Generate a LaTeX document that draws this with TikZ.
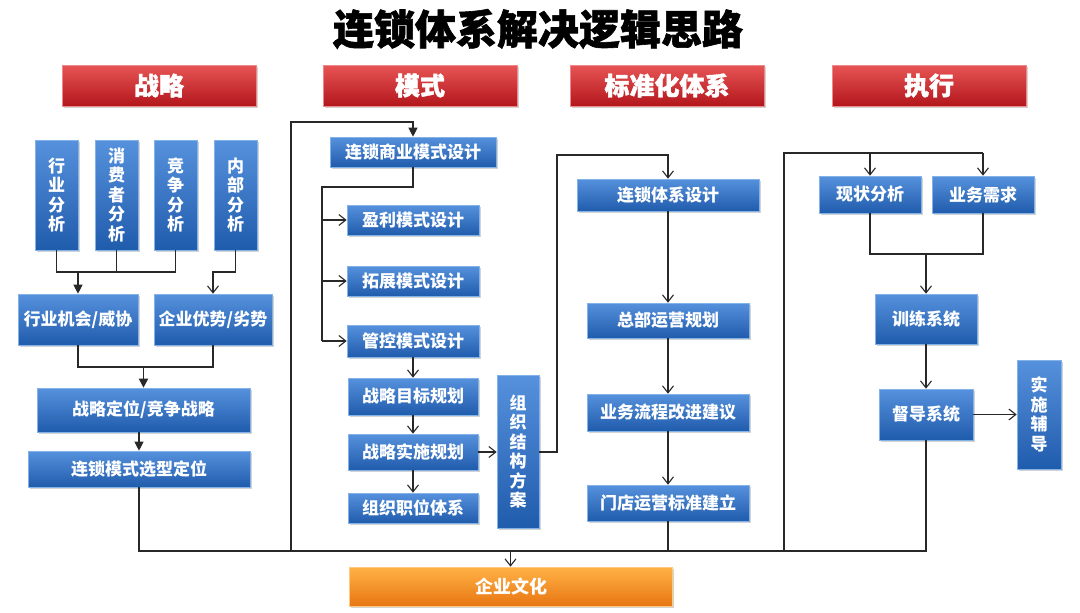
\documentclass[tikz,border=0pt]{standalone}
\usepackage{fontspec}
\setmainfont{Noto Sans CJK SC}
\newfontfamily\heavyfont[BoldFeatures={FakeBold=1.5}]{Noto Sans CJK SC}
\usetikzlibrary{arrows.meta,shadows}
\definecolor{bluetop}{RGB}{85,145,220}
\definecolor{bluebot}{RGB}{32,92,172}
\definecolor{blueedge}{RGB}{130,178,232}
\definecolor{redtop}{RGB}{232,85,85}
\definecolor{redbot}{RGB}{178,22,28}
\definecolor{orgtop}{RGB}{255,178,70}
\definecolor{orgbot}{RGB}{232,118,18}
\definecolor{lncol}{RGB}{40,40,40}
\tikzset{
  box/.style={draw=blueedge, line width=0.6pt, top color=bluetop, bottom color=bluebot,
    text=white, font=\bfseries\fontsize{17}{19.5}\selectfont, inner sep=0pt, align=center,
    drop shadow={shadow xshift=1.5pt, shadow yshift=-2pt, opacity=0.35}},
  hdr/.style={draw=redtop!70!white, line width=0.6pt, top color=redtop, bottom color=redbot,
    text=white, font=\heavyfont\bfseries\fontsize{25}{25}\selectfont, inner sep=0pt,
    minimum width=194pt, minimum height=41pt,
    drop shadow={shadow xshift=1.5pt, shadow yshift=-2pt, opacity=0.35}},
  obox/.style={draw=orgtop!70!white, line width=0.6pt, top color=orgtop, bottom color=orgbot,
    text=white, font=\bfseries\fontsize{18}{18}\selectfont, inner sep=0pt,
    drop shadow={shadow xshift=1.5pt, shadow yshift=-2pt, opacity=0.35}},
  ln/.style={draw=lncol, line width=1.1pt},
  tk/.style={draw=lncol, line width=2pt},
  arr/.style={ln, -{Straight Barb[length=7pt,width=11pt]}},
  farr/.style={ln, -{Triangle[length=9pt,width=9pt]}},
}
\begin{document}
\begin{tikzpicture}[x=1pt,y=-1pt]
\useasboundingbox (0,0) rectangle (1080,613);
% title
\node[font=\heavyfont\bfseries\fontsize{41}{41}\selectfont] (title) at (538,29) {连锁体系解决逻辑思路};
% headers
\node[hdr] (h1) at (159,85.5) {战略};
\node[hdr] (h2) at (420,85.5) {模式};
\node[hdr] (h3) at (667,85.5) {标准化体系};
\node[hdr] (h4) at (929,85.5) {执行};
% strategy column
\node[box, minimum width=43pt, minimum height=110pt] (a1) at (56.5,195) {行\\业\\分\\析};
\node[box, minimum width=43pt, minimum height=110pt] (a2) at (116.5,195) {消\\费\\者\\分\\析};
\node[box, minimum width=43pt, minimum height=110pt] (a3) at (175.5,195) {竞\\争\\分\\析};
\node[box, minimum width=43pt, minimum height=110pt] (a4) at (235.5,195) {内\\部\\分\\析};
\node[box, minimum width=120pt, minimum height=51pt] (b1) at (78,319.5) {行业机会/威协};
\node[box, minimum width=118pt, minimum height=51pt] (b2) at (213,319.5) {企业优势/劣势};
\node[box, minimum width=213pt, minimum height=44pt] (c1) at (143.5,410) {战略定位/竞争战略};
\node[box, minimum width=222pt, minimum height=36pt] (c2) at (139,469) {连锁模式选型定位};
% model column
\node[box, minimum width=166pt, minimum height=30pt] (m1) at (413,152) {连锁商业模式设计};
\node[box, minimum width=132pt, minimum height=30pt] (m2) at (413,220) {盈利模式设计};
\node[box, minimum width=132pt, minimum height=30pt] (m3) at (413,281) {拓展模式设计};
\node[box, minimum width=132pt, minimum height=32pt] (m4) at (413,341) {管控模式设计};
\node[box, minimum width=130pt, minimum height=37pt] (m5) at (413,396.5) {战略目标规划};
\node[box, minimum width=130pt, minimum height=36pt] (m6) at (413,452) {战略实施规划};
\node[box, minimum width=130pt, minimum height=30pt] (m7) at (413,508) {组织职位体系};
\node[box, minimum width=42pt, minimum height=153pt] (m8) at (518,451.5) {组\\织\\结\\构\\方\\案};
% standard column
\node[box, minimum width=182pt, minimum height=32pt] (s1) at (668,195) {连锁体系设计};
\node[box, minimum width=162pt, minimum height=35pt] (s2) at (668,320.5) {总部运营规划};
\node[box, minimum width=162pt, minimum height=37pt] (s3) at (668,412.5) {业务流程改进建议};
\node[box, minimum width=162pt, minimum height=36pt] (s4) at (668,503) {门店运营标准建立};
% execution column
\node[box, minimum width=102pt, minimum height=37pt] (e1) at (870,194.5) {现状分析};
\node[box, minimum width=102pt, minimum height=37pt] (e2) at (983,194.5) {业务需求};
\node[box, minimum width=102pt, minimum height=50pt] (e3) at (926,319) {训练系统};
\node[box, minimum width=94pt, minimum height=51pt] (e4) at (926,414.5) {督导系统};
\node[box, minimum width=44pt, minimum height=109pt] (e5) at (1039,414.5) {实\\施\\辅\\导};
% culture
\node[obox, minimum width=323pt, minimum height=39pt] (f) at (510.5,586.5) {\hspace{2pt}企业文化};
% junction coordinates
\coordinate (j1) at (78,272);
\coordinate (j2) at (213,272);
\coordinate (j3) at (143.5,367);
\coordinate (bus) at (0,551);
\coordinate (lc) at (291,122);
\coordinate (mc) at (322,187);
\coordinate (sc) at (557,155);
\coordinate (rc) at (784,153);
\coordinate (ej) at (926,254);
% strategy connectors
\draw[ln] (a1.south) -- (a1.south |- j1) -- (a3.south |- j1) -- (a3.south);
\draw[ln] (a2.south) -- (a2.south |- j1);
\draw[farr] (j1) -- (b1.north);
\draw[arr] (a4.south) |- (j2) -- (b2.north);
\draw[ln] (b1.south) -- (b1.south |- j3) -- (b2.south |- j3) -- (b2.south);
\draw[farr, line width=1.8pt] (j3) -- (c1.north);
\draw[farr] (c2.north |- c1.south) -- (c2.north);
% bus
\draw[ln] (c2.south) -- (c2.south |- bus) -- (e4.south |- bus) -- (e4.south);
\draw[farr] (lc |- bus) -- (lc) -- (m1.north |- lc) -- (m1.north);
\draw[arr] (f.north |- bus) -- (f.north);
\draw[ln] (s4.south) -- (s4.south |- bus);
\draw[ln] (rc |- bus) -- (rc) -- (e2.north |- rc);
\draw[arr] (e1.north |- rc) -- (e1.north);
\draw[arr] (e2.north |- rc) -- (e2.north);
% model connectors
\draw[tk] (m1.south) -- (m1.south |- mc) -- (mc) -- (mc |- m4.west);
\draw[arr] (mc |- m2.west) -- (m2.west);
\draw[arr] (mc |- m3.west) -- (m3.west);
\draw[arr] (mc |- m4.west) -- (m4.west);
\draw[arr] (m4.south) -- (m5.north);
\draw[arr] (m5.south) -- (m6.north);
\draw[arr] (m6.south) -- (m7.north);
\draw[arr] (m6.east) -- (m8.west |- m6.east);
\draw[arr] (m8.east |- m6.east) -- (sc |- m6.east) -- (sc) -- (s1.north |- sc) -- (s1.north);
% standard connectors
\draw[arr] (s1.south) -- (s2.north);
\draw[arr] (s2.south) -- (s3.north);
\draw[arr] (s3.south) -- (s4.north);
% execution connectors
\draw[ln] (e1.south) -- (e1.south |- ej) -- (e2.south |- ej) -- (e2.south);
\draw[arr] (ej) -- (e3.north);
\draw[arr] (e3.south) -- (e4.north);
\draw[arr] (e4.east) -- (e5.west |- e4.east);
\end{tikzpicture}
\end{document}
